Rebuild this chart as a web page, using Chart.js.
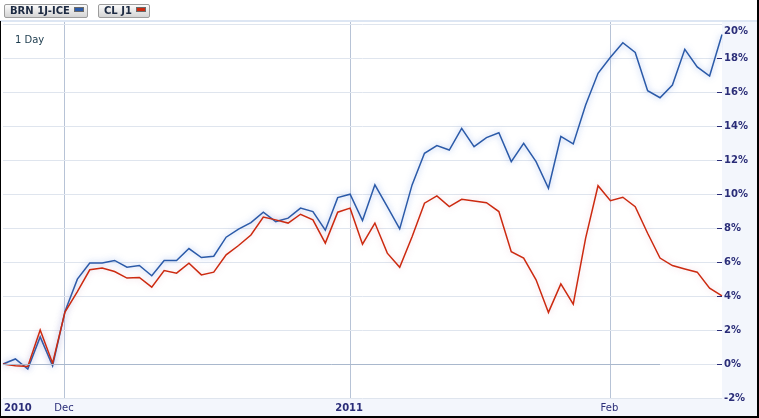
<!DOCTYPE html>
<html>
<head>
<meta charset="utf-8">
<script src="https://cdn.jsdelivr.net/npm/chart.js@4.4.0/dist/chart.umd.min.js"></script>
<style>
  html, body { margin: 0; padding: 0; background: #fff; }
  #wrap { position: relative; width: 759px; height: 418px; overflow: hidden; }
  #chart { position: absolute; left: 0; top: 0; }
  .lg {
    position: absolute; top: 4px; height: 12px; line-height: 12px;
    border: 1px solid #9c9c9c; border-radius: 2px;
    background: linear-gradient(#fbfbfb, #d4d4d4);
    font: bold 10px "DejaVu Sans", sans-serif; color: #1c2a42;
    padding: 0 3px 0 5px; white-space: nowrap;
  }
  .lg i {
    display: inline-block; width: 8px; height: 3px; margin-left: 4px;
    border: 1px solid #6a6a6a; vertical-align: 2px;
  }
</style>
</head>
<body>
<div id="wrap">
  <canvas id="chart" width="759" height="418"></canvas>
  <div class="lg" style="left:4px">BRN 1J-ICE<i style="background:#2b5aa8"></i></div>
  <div class="lg" style="left:98px">CL J1<i style="background:#cc2a10"></i></div>
</div>
<script>
// 取引日（2010/11/24〜2011/02/14）
const days = [
  '2010-11-24','2010-11-25','2010-11-26','2010-11-29','2010-11-30',
  '2010-12-01','2010-12-02','2010-12-03','2010-12-06','2010-12-07','2010-12-08','2010-12-09','2010-12-10',
  '2010-12-13','2010-12-14','2010-12-15','2010-12-16','2010-12-17','2010-12-20','2010-12-21','2010-12-22',
  '2010-12-23','2010-12-24','2010-12-27','2010-12-28','2010-12-29','2010-12-30','2010-12-31',
  '2011-01-03','2011-01-04','2011-01-05','2011-01-06','2011-01-07','2011-01-10','2011-01-11','2011-01-12',
  '2011-01-13','2011-01-14','2011-01-17','2011-01-18','2011-01-19','2011-01-20','2011-01-21','2011-01-24',
  '2011-01-25','2011-01-26','2011-01-27','2011-01-28','2011-01-31',
  '2011-02-01','2011-02-02','2011-02-03','2011-02-04','2011-02-07','2011-02-08','2011-02-09','2011-02-10',
  '2011-02-11','2011-02-14'
];

// 騰落率（%）
const brent = [
  0, 0.3, -0.3, 1.6, -0.1, 3.1, 5.0, 5.95, 5.95, 6.1,
  5.7, 5.8, 5.2, 6.1, 6.1, 6.8, 6.27, 6.35, 7.47, 7.94,
  8.33, 8.94, 8.39, 8.59, 9.18, 8.98, 7.88, 9.8, 10.0, 8.45,
  10.55, 9.27, 7.96, 10.55, 12.41, 12.86, 12.6, 13.88, 12.8, 13.33,
  13.62, 11.92, 13.0, 11.92, 10.35, 13.4, 12.96, 15.25, 17.12, 18.06,
  18.92, 18.35, 16.1, 15.68, 16.43, 18.53, 17.5, 16.96, 19.4
];
const crude = [
  0, -0.1, -0.15, 2.0, 0.05, 3.06, 4.27, 5.55, 5.65, 5.45,
  5.06, 5.1, 4.53, 5.5, 5.35, 5.94, 5.25, 5.41, 6.43, 6.98,
  7.6, 8.65, 8.49, 8.3, 8.82, 8.49, 7.12, 8.94, 9.18, 7.06,
  8.3, 6.53, 5.7, 7.5, 9.47, 9.9, 9.27, 9.7, 9.6, 9.5,
  8.98, 6.62, 6.24, 4.96, 3.04, 4.72, 3.53, 7.41, 10.5, 9.62,
  9.82, 9.27, 7.7, 6.24, 5.8, 5.6, 5.41, 4.47, 4.02
];

// 目盛りラベル
const startLabel = '2010';
const monthLabels = ['Dec', '2011', 'Feb'];
const yTicks = [-2, 0, 2, 4, 6, 8, 10, 12, 14, 16, 18, 20];

// 月の変わり目のインデックス
const monthStarts = days.map((d, i) => i > 0 && d.slice(0, 7) !== days[i - 1].slice(0, 7) ? i : -1).filter(i => i >= 0);

const navy = '#2a2d78';
const font = '"DejaVu Sans", sans-serif';

/* ==================================================
  線のぼかし（グロー）
================================================== */
const glowPlugin = {
  id: 'glow',
  beforeDatasetDraw(chart, args) {
    const ctx = chart.ctx;
    ctx.save();
    ctx.shadowColor = chart.data.datasets[args.index].glow;
    ctx.shadowBlur = 6;
  },
  afterDatasetDraw(chart) {
    chart.ctx.restore();
  }
};

/* ==================================================
  背景・目盛りラベル・枠線
================================================== */
const framePlugin = {
  id: 'frame',
  beforeDraw(chart) {
    const { ctx, chartArea: a, width, height } = chart;
    ctx.save();
    ctx.fillStyle = '#fff';
    ctx.fillRect(0, 0, width, height);
    ctx.fillStyle = '#f3f6fc';
    ctx.fillRect(a.right, a.top, width - a.right, height - a.top);
    ctx.fillRect(0, a.bottom + 1, width, height - a.bottom);
    ctx.restore();
  },
  afterDraw(chart) {
    const { ctx, chartArea: a, width, height } = chart;
    const x = chart.scales.x, y = chart.scales.y;
    ctx.save();

    // 0% ライン（濃い部分）
    const y0 = Math.round(y.getPixelForValue(0)) + 0.5;
    ctx.strokeStyle = '#a9b8cd';
    ctx.lineWidth = 1;
    ctx.beginPath();
    ctx.moveTo(a.left, y0);
    ctx.lineTo(x.getPixelForValue(53), y0);
    ctx.stroke();

    // 上端の線
    ctx.fillStyle = '#dde6f3';
    ctx.fillRect(0, a.top - 1, width, 2);

    // Y軸ラベルと目盛り
    ctx.font = 'bold 10px ' + font;
    ctx.fillStyle = navy;
    ctx.strokeStyle = navy;
    ctx.textAlign = 'left';
    ctx.textBaseline = 'middle';
    yTicks.forEach(v => {
      const py = y.getPixelForValue(v);
      if (v > -2 && v < 20) {
        ctx.beginPath();
        ctx.moveTo(a.right - 5, Math.round(py) + 0.5);
        ctx.lineTo(a.right, Math.round(py) + 0.5);
        ctx.stroke();
      }
      ctx.fillText(v + '%', a.right + 2, Math.max(py, a.top + 10));
    });

    // X軸ラベル
    const ly = a.bottom + 10;
    ctx.font = 'bold 10px ' + font;
    ctx.fillText(startLabel, a.left + 1, ly);
    ctx.textAlign = 'center';
    monthStarts.forEach((idx, k) => {
      const lbl = monthLabels[k];
      ctx.font = (/^\d{4}$/.test(lbl) ? 'bold ' : '') + '10px ' + font;
      ctx.fillText(lbl, x.getPixelForValue(idx) - 1, ly);
    });

    // 期間表示
    ctx.font = '10px ' + font;
    ctx.fillStyle = '#1b3a4c';
    ctx.textAlign = 'left';
    ctx.fillText('1 Day', 15, 40);

    // 外枠
    ctx.fillStyle = '#000';
    ctx.fillRect(0, a.top, 1, height - a.top);
    ctx.fillRect(width - 2, 0, 2, height);
    ctx.fillRect(0, height - 2, width, 2);
    ctx.restore();
  }
};

new Chart(document.getElementById('chart'), {
  type: 'line',
  data: {
    labels: days,
    datasets: [
      { label: 'CL J1', data: crude, borderColor: '#cc2a10', glow: 'rgba(200,120,150,0.35)', order: 0 },
      { label: 'BRN 1J-ICE', data: brent, borderColor: '#2b5aa8', glow: 'rgba(110,150,230,0.7)', order: 1 }
    ]
  },
  options: {
    responsive: false,
    animation: false,
    devicePixelRatio: 1,
    layout: { padding: { top: 21, left: 3, right: 0, bottom: 0 } },
    elements: {
      line: { borderWidth: 1.5, tension: 0, fill: false },
      point: { radius: 0, hoverRadius: 0 }
    },
    plugins: { legend: { display: false }, tooltip: { enabled: false } },
    scales: {
      x: {
        type: 'category',
        offset: false,
        border: { display: false },
        ticks: { display: false, autoSkip: false },
        grid: {
          drawTicks: false,
          color: c => monthStarts.includes(c.index) ? '#b7c3d6' : 'rgba(0,0,0,0)'
        },
        afterFit: s => { s.height = 20; }
      },
      y: {
        type: 'linear',
        position: 'right',
        min: -2,
        max: 20.2,
        border: { display: false },
        afterBuildTicks: s => { s.ticks = yTicks.map(v => ({ value: v })); },
        ticks: { display: false },
        grid: { drawTicks: false, color: '#dfe5ee' },
        afterFit: s => { s.width = 37; }
      }
    }
  },
  plugins: [glowPlugin, framePlugin]
});
</script>
</body>
</html>
